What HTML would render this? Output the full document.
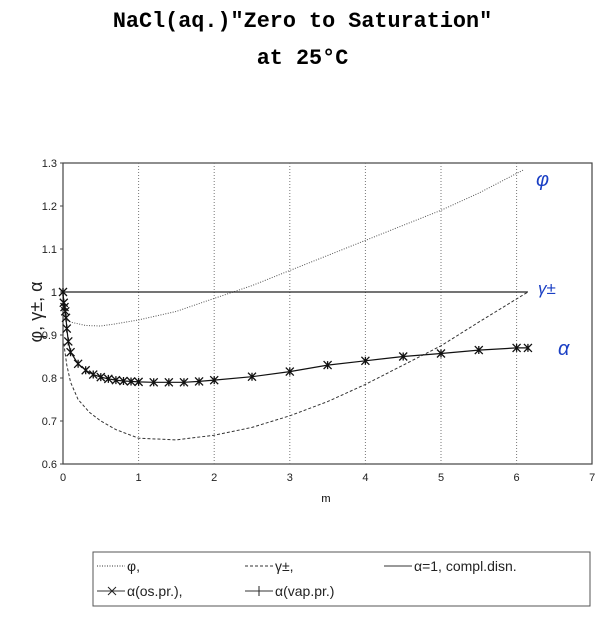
<!DOCTYPE html>
<html><head><meta charset="utf-8"><style>
body{margin:0;background:#fff;width:605px;height:619px;overflow:hidden;font-family:"Liberation Sans",sans-serif}
.t{position:absolute;width:605px;text-align:center;font-family:"Liberation Mono",monospace;font-weight:bold;font-size:21.8px;color:#000}
</style></head><body>
<div class="t" style="top:9px;left:0">NaCl(aq.)"Zero to Saturation"</div>
<div class="t" style="top:46px;left:0">at 25°C</div>
<svg id="s" width="605" height="619" style="position:absolute;left:0;top:0" xmlns="http://www.w3.org/2000/svg"></svg>
<script>
const s=document.getElementById('s');
const X=m=>63+75.6*m, Y=v=>292-(v-1)*430;
let h='';
h+='<rect x="63" y="163" width="529" height="301" fill="none" stroke="#444" stroke-width="1.2"/>';
for(let i=1;i<7;i++)h+=`<line x1="${X(i)}" y1="163" x2="${X(i)}" y2="464" stroke="#777" stroke-dasharray="1,2"/>`;
for(let i=0;i<=7;i++)h+=`<text x="${X(i)}" y="481" font-size="11" text-anchor="middle" fill="#222">${i}</text>`;
const yl=['0.6','0.7','0.8','0.9','1','1.1','1.2','1.3'];
yl.forEach((l,i)=>{const y=Y(0.6+i*0.1);h+=`<text x="57" y="${y+4}" font-size="11" text-anchor="end" fill="#222">${l}</text><line x1="60" y1="${y}" x2="63" y2="${y}" stroke="#444"/>`;});
h+='<text x="326" y="502" font-size="11" text-anchor="middle">m</text>';
h+='<text transform="translate(42,312) rotate(-90)" font-size="18" text-anchor="middle" fill="#222">φ, γ±, α</text>';
const P=a=>'M'+a.map(p=>X(p[0]).toFixed(1)+','+Y(p[1]).toFixed(1)).join(' L');
const phi=[[0,0.94],[0.1,0.93],[0.3,0.922],[0.5,0.921],[0.7,0.926],[1,0.935],[1.5,0.955],[2,0.985],[2.5,1.015],[3,1.05],[3.5,1.085],[4,1.12],[4.5,1.155],[5,1.19],[5.5,1.23],[6.1,1.285]];
const gam=[[0.01,0.88],[0.05,0.83],[0.1,0.79],[0.2,0.75],[0.35,0.72],[0.5,0.70],[0.7,0.68],[1,0.66],[1.5,0.656],[2,0.667],[2.5,0.685],[3,0.712],[3.5,0.745],[4,0.785],[4.5,0.83],[5,0.875],[5.5,0.93],[6.15,1.0]];
const al=[[0,1],[0.01,0.975],[0.02,0.965],[0.03,0.955],[0.04,0.94],[0.05,0.915],[0.07,0.885],[0.1,0.86],[0.2,0.833],[0.3,0.818],[0.4,0.808],[0.5,0.802],[0.6,0.798],[0.7,0.795],[0.8,0.793],[0.9,0.792],[1,0.791],[1.2,0.79],[1.4,0.79],[1.6,0.79],[1.8,0.792],[2,0.795],[2.5,0.803],[3,0.815],[3.5,0.83],[4,0.84],[4.5,0.85],[5,0.857],[5.5,0.865],[6,0.87],[6.15,0.87]];
h+=`<path d="${P(phi)}" fill="none" stroke="#555" stroke-dasharray="1,1.5" stroke-width="1"/>`;
h+=`<path d="${P(gam)}" fill="none" stroke="#333" stroke-dasharray="3,2" stroke-width="1"/>`;
h+=`<line x1="${X(0)}" y1="${Y(1)}" x2="${X(6.15)}" y2="${Y(1)}" stroke="#222" stroke-width="1.2"/>`;
h+=`<path d="${P(al)}" fill="none" stroke="#111" stroke-width="1.2"/>`;
al.forEach(p=>{const x=X(p[0]),y=Y(p[1]);h+=`<path d="M${x-4},${y-4}L${x+4},${y+4}M${x-4},${y+4}L${x+4},${y-4}M${x},${y-4}L${x},${y+4}" stroke="#111" stroke-width="1.3"/>`;});
h+='<text x="536" y="186" font-size="20" fill="#1a3fc4" font-style="italic">φ</text>';
h+='<text x="538" y="294" font-size="17" fill="#1a3fc4" font-style="italic">γ±</text>';
h+='<text x="558" y="355" font-size="20" fill="#1a3fc4" font-style="italic">α</text>';
h+='<rect x="93" y="552" width="497" height="54" fill="none" stroke="#555"/>';
const L=(x,y,dash,t)=>`<line x1="${x}" y1="${y}" x2="${x+28}" y2="${y}" stroke="#333" ${dash}/><text x="${x+30}" y="${y+5}" font-size="14" fill="#222">${t}</text>`;
h+=L(97,566,'stroke-dasharray="1,1.5"','φ,');
h+=L(245,566,'stroke-dasharray="3,2"','γ±,');
h+=L(384,566,'','α=1, compl.disn.');
h+=L(97,591,'','α(os.pr.),')+'<path d="M108,587L116,595M108,595L116,587" stroke="#222"/>';
h+=L(245,591,'','α(vap.pr.)')+'<line x1="259" y1="586" x2="259" y2="596" stroke="#222"/>';
s.innerHTML=h;
</script>
</body></html>
